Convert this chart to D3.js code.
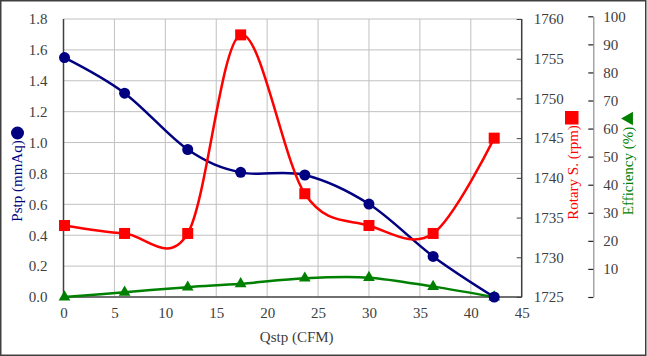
<!DOCTYPE html>
<html><head><meta charset="utf-8">
<script src="https://cdn.jsdelivr.net/npm/d3@7"></script>
<style>body{margin:0;background:#fff}svg{display:block}</style>
</head><body><svg id="c" width="647" height="356"></svg>
<script>
const qstp = [0.1, 6.0, 12.2, 17.4, 23.7, 30.0, 36.3, 42.3];
const pstp = [1.55, 1.32, 0.955, 0.807, 0.79, 0.602, 0.263, 0.0];
const rotary = [1734, 1733, 1733, 1758, 1738, 1734, 1733, 1745];
const efficiency = [0, 1.7, 3.5, 4.7, 6.7, 6.9, 3.7, 0];
const xTicks = [0,5,10,15,20,25,30,35,40,45];
const pTicks = [0,0.2,0.4,0.6,0.8,1.0,1.2,1.4,1.6,1.8];
const rTicks = [1725,1730,1735,1740,1745,1750,1755,1760];
const eTicks = [0,10,20,30,40,50,60,70,80,90,100];

const FONT = "Liberation Serif";
const svg = d3.select("#c");
const L=63.5, R=521.7, T=19, B=297;
const x = d3.scaleLinear().domain([0,45]).range([L,R]);
const yP = d3.scaleLinear().domain([0,1.8]).range([B,T]);
const yR = d3.scaleLinear().domain([1725,1760]).range([B,T]);
const yE = d3.scaleLinear().domain([0,100]).range([B,16.3]);
const labCol="#404040", fs=15;

svg.append("rect").attr("x",0.75).attr("y",0.75).attr("width",645).attr("height",354.5)
  .attr("fill","#fff").attr("stroke","#404040").attr("stroke-width",1.5);

const g = svg.append("g");
g.selectAll(".vg").data(xTicks.slice(1)).join("line")
  .attr("x1",d=>x(d)).attr("x2",d=>x(d)).attr("y1",T).attr("y2",B)
  .attr("stroke","#c0c0c0").attr("stroke-width",1);
g.selectAll(".hg").data(pTicks.slice(1)).join("line")
  .attr("x1",L).attr("x2",R).attr("y1",d=>yP(d)).attr("y2",d=>yP(d))
  .attr("stroke","#c0c0c0").attr("stroke-width",1);

svg.append("line").attr("x1",L).attr("x2",L).attr("y1",T).attr("y2",B).attr("stroke","#404040").attr("stroke-width",1.5);
svg.append("line").attr("x1",R).attr("x2",R).attr("y1",T).attr("y2",B).attr("stroke","#404040").attr("stroke-width",1.5);
svg.append("line").attr("x1",L).attr("x2",R).attr("y1",B).attr("y2",B).attr("stroke","#404040").attr("stroke-width",1.5);

function styleAxis(sel){ sel.attr("font-family",FONT).attr("font-size",fs); sel.selectAll("text").attr("fill",labCol); }

const gL = svg.append("g").attr("transform",`translate(${L},0)`)
  .call(d3.axisLeft(yP).tickValues(pTicks).tickFormat(d3.format(".1f")).tickSize(0).tickPadding(16));
gL.select(".domain").remove(); styleAxis(gL);

const gB = svg.append("g").attr("transform",`translate(0,${B})`)
  .call(d3.axisBottom(x).tickValues(xTicks).tickFormat(d3.format("d")).tickSize(0).tickPadding(10));
gB.select(".domain").remove(); styleAxis(gB);

const gR = svg.append("g").attr("transform",`translate(${R},0)`)
  .call(d3.axisRight(yR).tickValues(rTicks).tickFormat(d3.format("d")).tickSizeInner(-5).tickSizeOuter(0).tickPadding(12));
gR.select(".domain").remove(); gR.selectAll("line").attr("stroke","#404040"); styleAxis(gR);

const EX = 593.3;
const gE = svg.append("g").attr("transform",`translate(${EX},0)`)
  .call(d3.axisRight(yE).tickValues(eTicks).tickFormat(d=>d===0?"":d).tickSizeInner(-5).tickSizeOuter(0).tickPadding(10));
gE.select(".domain").attr("stroke","#909090").attr("stroke-width",1.2);
gE.selectAll("line").attr("stroke","#202020").attr("stroke-width",1.2);
styleAxis(gE);

const curve = d3.curveCardinal.tension(0);
const lineP = d3.line().x((d,i)=>x(qstp[i])).y(d=>yP(d)).curve(curve);
const lineR = d3.line().x((d,i)=>x(qstp[i])).y(d=>yR(d)).curve(curve);
const lineE = d3.line().x((d,i)=>x(qstp[i])).y(d=>yE(d)).curve(curve);

svg.append("path").attr("d",lineE(efficiency)).attr("fill","none").attr("stroke","#008000").attr("stroke-width",2.5);
svg.append("path").attr("d",lineP(pstp)).attr("fill","none").attr("stroke","#000080").attr("stroke-width",2.5);
svg.append("path").attr("d",lineR(rotary)).attr("fill","none").attr("stroke","#ff0000").attr("stroke-width",2.5);

const tri = d3.symbol().type(d3.symbolTriangle).size(60);
svg.selectAll(".mE").data(efficiency).join("path")
  .attr("transform",(d,i)=>`translate(${x(qstp[i])},${yE(d)})`).attr("d",tri()).attr("fill","#008000");
svg.selectAll(".mP").data(pstp).join("circle")
  .attr("cx",(d,i)=>x(qstp[i])).attr("cy",d=>yP(d)).attr("r",5.5).attr("fill","#000080");
svg.selectAll(".mR").data(rotary).join("rect")
  .attr("x",(d,i)=>x(qstp[i])-5.5).attr("y",d=>yR(d)-5.5).attr("width",11).attr("height",11).attr("fill","#ff0000");

const t = svg.append("g").attr("font-family",FONT).attr("font-size",fs);
t.append("text").attr("x",296.7).attr("y",342).attr("text-anchor","middle").attr("fill",labCol)
  .text("Qstp (CFM)");
t.append("text").attr("transform","translate(22,181) rotate(-90)").attr("text-anchor","middle")
  .attr("fill","#000080").text("Pstp (mmAq)");
svg.append("circle").attr("cx",17.5).attr("cy",133).attr("r",6.5).attr("fill","#000080");
t.append("text").attr("transform","translate(577.5,172.5) rotate(-90)").attr("text-anchor","middle")
  .attr("fill","#ff0000").text("Rotary S. (rpm)");
svg.append("rect").attr("x",565).attr("y",111).attr("width",13.5).attr("height",13.5).attr("fill","#ff0000");
t.append("text").attr("transform","translate(633,171) rotate(-90)").attr("text-anchor","middle")
  .attr("fill","#008000").text("Efficiency (%)");
svg.append("path").attr("transform","translate(629,118.5) rotate(-90)")
  .attr("d",d3.symbol().type(d3.symbolTriangle).size(80)()).attr("fill","#008000");
</script></body></html>
